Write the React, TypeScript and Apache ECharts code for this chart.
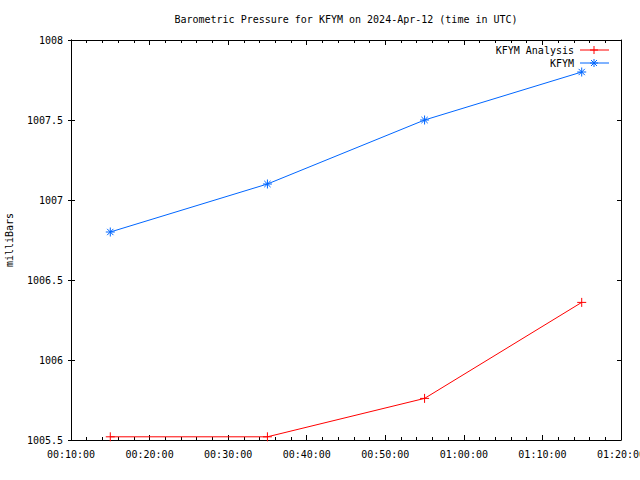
import React, { useEffect, useRef } from "react";
import * as echarts from "echarts";

const times: string[] = ["00:15:00", "00:35:00", "00:55:00", "01:15:00"];
const kfymValues: number[] = [1006.8, 1007.1, 1007.5, 1007.8];
const analysisValues: number[] = [1005.52, 1005.52, 1005.76, 1006.36];
const seriesNames: string[] = ["KFYM Analysis", "KFYM"];
const titleText = "Barometric Pressure for KFYM on 2024-Apr-12 (time in UTC)";
const yAxisName = "milliBars";

const toSec = (t: string) => {
  const [h, m, s] = t.split(":").map(Number);
  return h * 3600 + m * 60 + s;
};
const fmt = (v: number) => {
  const h = Math.floor(v / 3600);
  const m = Math.floor((v % 3600) / 60);
  const s = Math.floor(v % 60);
  const p = (n: number) => String(n).padStart(2, "0");
  return `${p(h)}:${p(m)}:${p(s)}`;
};

const FONT = "DejaVu Sans Mono";
const RED = "#ff0000";
const BLUE = "#0066ff";
const PLUS = "path://M0,5L10,5M5,0L5,10";
const STAR = "path://M0,5L10,5M5,0L5,10M1.5,1.5L8.5,8.5M8.5,1.5L1.5,8.5";

export default function App() {
  const ref = useRef<HTMLDivElement>(null);
  useEffect(() => {
    if (!ref.current) return;
    const chart = echarts.init(ref.current, null, { renderer: "svg" });
    const xs = times.map(toSec);
    const xMin = toSec("00:10:00");
    const xMax = toSec("01:20:00");
    const axisLine = { show: true, lineStyle: { color: "#000", width: 1 } };
    const xCommon = {
      type: "value" as const,
      min: xMin,
      max: xMax,
      interval: 600,
      splitLine: { show: false },
      axisLine,
      axisTick: { show: true, inside: true, length: 5, lineStyle: { color: "#000" } },
      minorTick: { show: true, splitNumber: 5, length: 3, lineStyle: { color: "#000" } },
    };
    const yCommon = {
      type: "value" as const,
      min: 1005.5,
      max: 1008,
      interval: 0.5,
      splitLine: { show: false },
      axisLine,
      scale: true,
    };
    const legendLine = (y: number, color: string, star: boolean) => {
      const cx = 594;
      const els: any[] = [
        { type: "line", shape: { x1: 580, y1: y, x2: 609, y2: y }, style: { stroke: color, lineWidth: 1 } },
        { type: "line", shape: { x1: cx - 4, y1: y, x2: cx + 4, y2: y }, style: { stroke: color, lineWidth: 1 } },
        { type: "line", shape: { x1: cx, y1: y - 4, x2: cx, y2: y + 4 }, style: { stroke: color, lineWidth: 1 } },
      ];
      if (star) {
        els.push(
          { type: "line", shape: { x1: cx - 3, y1: y - 3, x2: cx + 3, y2: y + 3 }, style: { stroke: color, lineWidth: 1 } },
          { type: "line", shape: { x1: cx + 3, y1: y - 3, x2: cx - 3, y2: y + 3 }, style: { stroke: color, lineWidth: 1 } }
        );
      }
      return els;
    };
    chart.setOption({
      animation: false,
      backgroundColor: "#fff",
      textStyle: { fontFamily: FONT },
      grid: { left: 71, right: 19, top: 40, bottom: 40, containLabel: false, outerBoundsMode: "none" },
      xAxis: [
        {
          ...xCommon,
          position: "bottom",
          axisLabel: {
            show: true,
            formatter: (v: number) => fmt(v),
            fontFamily: FONT,
            fontSize: 10,
            color: "#000",
            margin: 9,
            showMaxLabel: true,
            showMinLabel: true,
          },
        },
        { ...xCommon, position: "top", axisLabel: { show: false } },
      ],
      yAxis: [
        {
          ...yCommon,
          position: "left",
          axisTick: { show: true, inside: true, length: 4, lineStyle: { color: "#000" } },
          axisLabel: {
            show: true,
            fontFamily: FONT,
            fontSize: 10,
            color: "#000",
            margin: 8,
            formatter: (v: number) => String(v),
          },
          name: yAxisName,
          nameLocation: "middle",
          nameGap: 57,
          nameRotate: 90,
          nameTextStyle: { fontFamily: FONT, fontSize: 10, color: "#000" },
        },
        {
          ...yCommon,
          position: "left",
          axisTick: { show: true, inside: false, length: 3, lineStyle: { color: "#000" } },
          axisLabel: { show: false },
        },
        {
          ...yCommon,
          position: "right",
          axisTick: { show: true, inside: true, length: 4, lineStyle: { color: "#000" } },
          axisLabel: { show: false },
        },
      ],
      series: [
        {
          name: seriesNames[0],
          type: "line",
          data: xs.map((x, i) => [x, analysisValues[i]]),
          lineStyle: { color: RED, width: 1 },
          symbol: PLUS,
          symbolSize: 9,
          showAllSymbol: true,
          itemStyle: { color: "none", borderColor: RED, borderWidth: 1 },
          z: 3,
        },
        {
          name: seriesNames[1],
          type: "line",
          data: xs.map((x, i) => [x, kfymValues[i]]),
          lineStyle: { color: BLUE, width: 1 },
          symbol: STAR,
          symbolSize: 9,
          showAllSymbol: true,
          itemStyle: { color: "none", borderColor: BLUE, borderWidth: 1 },
          z: 3,
        },
      ],
      graphic: [
        {
          type: "text",
          x: 346,
          y: 19,
          style: { text: titleText, font: `10px '${FONT}'`, fill: "#000", textAlign: "center", textVerticalAlign: "middle" },
        },
        {
          type: "text",
          x: 574,
          y: 50,
          style: { text: seriesNames[0], font: `10px '${FONT}'`, fill: "#000", textAlign: "right", textVerticalAlign: "middle" },
        },
        {
          type: "text",
          x: 574,
          y: 63,
          style: { text: seriesNames[1], font: `10px '${FONT}'`, fill: "#000", textAlign: "right", textVerticalAlign: "middle" },
        },
        ...legendLine(50, RED, false),
        ...legendLine(63, BLUE, true),
      ],
    });
    return () => chart.dispose();
  }, []);
  return (
    <div
      ref={ref}
      style={{ position: "fixed", left: 0, top: 0, width: 640, height: 480, background: "#fff" }}
    />
  );
}
